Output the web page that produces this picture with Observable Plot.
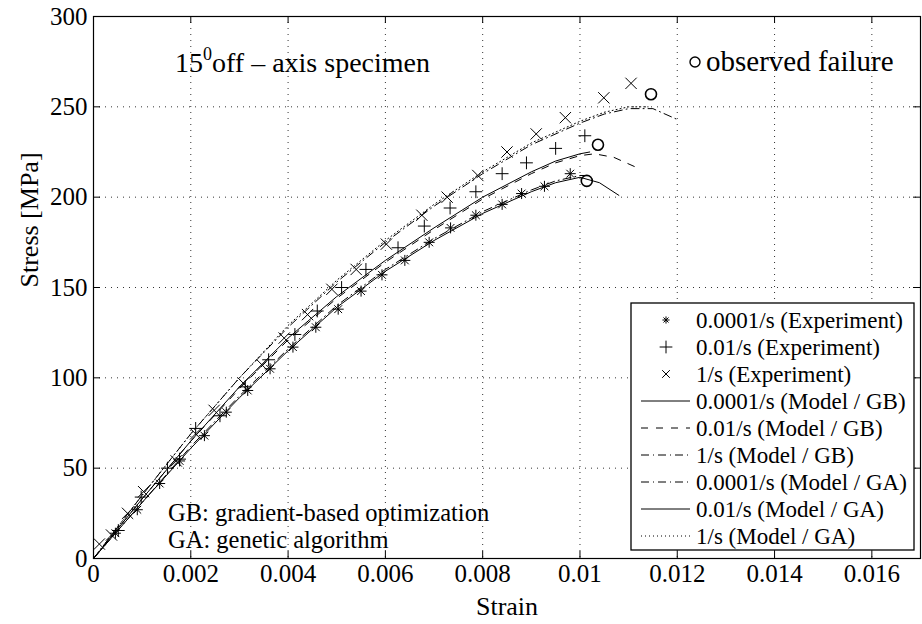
<!DOCTYPE html>
<html><head><meta charset="utf-8">
<script src="https://cdn.jsdelivr.net/npm/d3@7"></script>
<script src="https://cdn.jsdelivr.net/npm/@observablehq/plot@0.6"></script>
<style>
body{margin:0;background:#fff;}
#chart{position:relative;width:922px;height:624px;}
</style></head><body><div id="chart"></div>
<script>
// ---- tick values / labels ----
const xTicks = [0, 0.002, 0.004, 0.006, 0.008, 0.01, 0.012, 0.014, 0.016];
const xTickLabels = ["0","0.002","0.004","0.006","0.008","0.01","0.012","0.014","0.016"];
const yTicks = [0, 50, 100, 150, 200, 250, 300];
const yTickLabels = ["0","50","100","150","200","250","300"];

// ---- experiments ----
const expStrainSlow = [0.00045,0.0009,0.00136,0.00177,0.00228,0.00273,0.00317,0.00363,0.0041,0.00457,0.00503,0.0055,0.00593,0.0064,0.0069,0.00734,0.00786,0.0084,0.0088,0.00927,0.0098];
const expStressSlow = [14,27,41.5,54,68,81,93,105,117,128,138,148,157,165,175,183,190,196,202,206,213];
const expStrainMid = [0.00051,0.00098,0.00152,0.00177,0.0021,0.0026,0.00312,0.0036,0.00414,0.0046,0.0051,0.0056,0.00626,0.0068,0.00733,0.00786,0.0084,0.0089,0.0095,0.0101];
const expStressMid = [15.5,34,50,55,72,79,95,110,124,137,150,160,172,184,194,203,213,219,227,234];
const expStrainFast = [0.00012,0.00037,0.0007,0.00103,0.0017,0.0021,0.00248,0.00308,0.00347,0.00392,0.0044,0.0049,0.0054,0.00602,0.00675,0.00727,0.0079,0.0085,0.0091,0.0097,0.01049,0.01105];
const expStressFast = [8,13,25,37,54,69,82,97,107,122,135,149,160,174,190,200,212,225,235,244,255,263];

// ---- models ----
const gbStrainSlow = [0,0.001,0.002,0.003,0.004,0.005,0.006,0.007,0.008,0.009,0.0095,0.01,0.0104,0.0108];
const gbStressSlow = [0,31,61,89,115,139,159,176,191,203,208,211,208,201];
const gbStrainMid = [0,0.001,0.002,0.003,0.004,0.005,0.006,0.007,0.008,0.009,0.0095,0.01,0.0103,0.0107,0.0112];
const gbStressMid = [0,33,65,94,121,144,164,182,199,213,219,223,224,222,216];
const gbStrainFast = [0,0.001,0.002,0.003,0.004,0.005,0.006,0.007,0.008,0.009,0.01,0.0105,0.011,0.0115,0.012];
const gbStressFast = [0,35,69,100,128,153,175,195,213,229,241,246,249,249,243];
const gaStrainSlow = [0,0.001,0.002,0.003,0.004,0.005,0.006,0.007,0.008,0.009,0.0095,0.01,0.0102];
const gaStressSlow = [0,31,62,90,116,140,160,177,192,204,209,212,212];
const gaStrainMid = [0,0.001,0.002,0.003,0.004,0.005,0.006,0.007,0.008,0.009,0.0095,0.01,0.0102];
const gaStressMid = [0,33,65,95,122,145,165,183,200,214,220,224,225];
const gaStrainFast = [0,0.001,0.002,0.003,0.004,0.005,0.006,0.007,0.008,0.009,0.01,0.0105,0.011,0.0114];
const gaStressFast = [0,35,69,100,129,154,176,196,214,230,242,247,250,250];

// ---- observed failure ----
const failStrain = [0.01014, 0.01037, 0.01146];
const failStress = [209, 229, 257];

const legendLabels = ["0.0001/s (Experiment)","0.01/s (Experiment)","1/s (Experiment)",
  "0.0001/s (Model / GB)","0.01/s (Model / GB)","1/s (Model / GB)",
  "0.0001/s (Model / GA)","0.01/s (Model / GA)","1/s (Model / GA)"];

const rows = (xs, ys) => xs.map((x, i) => ({x, y: ys[i]}));

const FONT = "'Liberation Serif','Times New Roman',serif";
const W = 922, H = 624, mL = 93, mR = 2, mT = 16, mB = 66;
const innerW = W - mL - mR, innerH = H - mT - mB;
const TICK = 7;
const DASH = "7,8", DASHDOT = "8,4,1,4", DOT = "1,3";

// MATLAB-like 8-armed asterisk
const star8 = {
  draw(ctx, size) {
    const r = Math.sqrt(size / Math.PI), d = r * Math.SQRT1_2;
    ctx.moveTo(-r, 0); ctx.lineTo(r, 0);
    ctx.moveTo(0, -r); ctx.lineTo(0, r);
    ctx.moveTo(-d, -d); ctx.lineTo(d, d);
    ctx.moveTo(-d, d); ctx.lineTo(d, -d);
  }
};

const lineSpecs = [
  [gbStrainSlow, gbStressSlow, null],
  [gbStrainMid, gbStressMid, DASH],
  [gbStrainFast, gbStressFast, DASHDOT],
  [gaStrainSlow, gaStressSlow, DASHDOT],
  [gaStrainMid, gaStressMid, null],
  [gaStrainFast, gaStressFast, DOT]
];

const plot = Plot.plot({
  width: W, height: H,
  marginLeft: mL, marginRight: mR, marginTop: mT, marginBottom: mB,
  x: {domain: [0, 0.017]},
  y: {domain: [0, 300]},
  style: {fontFamily: FONT, fontSize: "25px", background: "#fff", color: "#000"},
  marks: [
    Plot.gridX({ticks: xTicks.slice(1), stroke: "#333", strokeOpacity: 1, strokeWidth: 1, strokeDasharray: "1,5"}),
    Plot.gridY({ticks: yTicks.slice(1, -1), stroke: "#333", strokeOpacity: 1, strokeWidth: 1, strokeDasharray: "1,5"}),
    Plot.ruleX(xTicks, {x: d => d, insetTop: innerH - TICK, stroke: "#000"}),
    Plot.ruleX(xTicks, {x: d => d, insetBottom: innerH - TICK, stroke: "#000"}),
    Plot.ruleY(yTicks, {y: d => d, insetRight: innerW - TICK, stroke: "#000"}),
    Plot.ruleY(yTicks, {y: d => d, insetLeft: innerW - TICK, stroke: "#000"}),
    Plot.axisX({ticks: xTicks, tickSize: 0, tickPadding: 6, label: null,
      tickFormat: d => xTickLabels[xTicks.indexOf(d)], fontSize: 25, fontFamily: FONT}),
    Plot.axisY({ticks: yTicks, tickSize: 0, tickPadding: 6, label: null,
      tickFormat: d => yTickLabels[yTicks.indexOf(d)], fontSize: 25, fontFamily: FONT}),
    Plot.text(["Strain"], {frameAnchor: "bottom", dy: 48, fontSize: 26, lineAnchor: "middle", fontFamily: FONT}),
    Plot.text(["Stress [MPa]"], {frameAnchor: "left", dx: -64, rotate: -90, fontSize: 26, lineAnchor: "middle", fontFamily: FONT}),
    ...lineSpecs.map(([xs, ys, dash]) =>
      Plot.line(rows(xs, ys), {x: "x", y: "y", stroke: "#000", strokeWidth: 1, strokeDasharray: dash || undefined})),
    Plot.dot(rows(expStrainSlow, expStressSlow), {x: "x", y: "y", symbol: star8, r: 5.5, stroke: "#000", strokeWidth: 1}),
    Plot.dot(rows(expStrainMid, expStressMid), {x: "x", y: "y", symbol: "plus", r: 4.2, stroke: "#000", strokeWidth: 1}),
    Plot.dot(rows(expStrainFast, expStressFast), {x: "x", y: "y", symbol: "times", r: 5.2, stroke: "#000", strokeWidth: 1}),
    Plot.dot(rows(failStrain, failStress), {x: "x", y: "y", r: 5.5, stroke: "#000", strokeWidth: 1.6, fill: "none"}),
    Plot.frame({stroke: "#000", strokeWidth: 1.2})
  ]
});

document.getElementById("chart").appendChild(plot);
const svg = d3.select(plot);

// ---- annotations ----
const ann = svg.append("g").attr("font-family", FONT).attr("fill", "#000").attr("text-anchor", "start");
const t1 = ann.append("text").attr("x", 175).attr("y", 72).attr("font-size", 28);
t1.append("tspan").text("15");
t1.append("tspan").attr("dy", -12).attr("font-size", 18).text("0");
t1.append("tspan").attr("dy", 12).text("off \u2013 axis specimen");
ann.append("circle").attr("cx", 695).attr("cy", 62).attr("r", 5).attr("fill", "none").attr("stroke", "#000").attr("stroke-width", 1.4);
ann.append("text").attr("x", 706).attr("y", 71).attr("font-size", 29).text("observed failure");
ann.append("text").attr("x", 168).attr("y", 521).attr("font-size", 24.5).text("GB: gradient-based optimization");
ann.append("text").attr("x", 168).attr("y", 548).attr("font-size", 24.5).text("GA: genetic algorithm");

// ---- legend ----
const lg = svg.append("g").attr("font-family", FONT).attr("font-size", 23).attr("text-anchor", "start").attr("fill", "#000");
const bx = 631, by = 303, bw = 283, bh = 247, rowH = 27;
lg.append("rect").attr("x", bx).attr("y", by).attr("width", bw).attr("height", bh)
  .attr("fill", "#fff").attr("stroke", "#000").attr("stroke-width", 1.3);
const symbols = [star8, d3.symbolPlus, d3.symbolTimes];
const legendDash = [null, DASH, DASHDOT, DASHDOT, null, DOT];
legendLabels.forEach((lab, i) => {
  const cy = by + 17 + i * rowH;
  if (i < 3) {
    lg.append("path").attr("d", d3.symbol(symbols[i], i === 0 ? 40 : i === 1 ? 55 : 40)())
      .attr("transform", `translate(666,${cy})`).attr("fill", "none").attr("stroke", "#000").attr("stroke-width", 1);
  } else {
    const ln = lg.append("line").attr("x1", 641).attr("x2", 690).attr("y1", cy).attr("y2", cy)
      .attr("stroke", "#000").attr("stroke-width", 1);
    if (legendDash[i - 3]) ln.attr("stroke-dasharray", legendDash[i - 3]);
  }
  lg.append("text").attr("x", 696).attr("y", cy).attr("dy", "0.34em").text(lab);
});
</script>
</body></html>
